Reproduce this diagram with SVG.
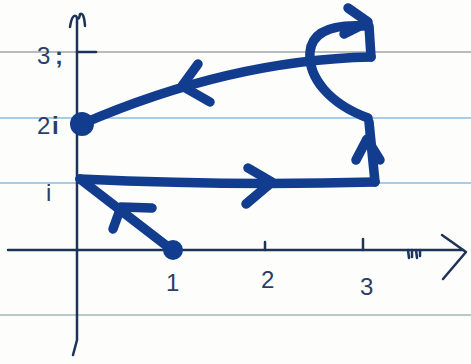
<svg xmlns="http://www.w3.org/2000/svg" width="471" height="364" viewBox="0 0 471 364">
<style>
.rule{stroke-width:2;fill:none}
.axis{stroke:#1d3358;stroke-width:2.5;fill:none;stroke-linecap:round;stroke-linejoin:round}
.ink{stroke:#123d8f;stroke-width:9.5;fill:none;stroke-linecap:round;stroke-linejoin:round}
.lbl{font-family:"Liberation Sans",Arial,sans-serif;font-size:24px;fill:#2a3e66}
</style>
<rect width="471" height="364" fill="#fdfdfb"/>
<g id="paper">
<line class="rule" x1="0" y1="52" x2="471" y2="52" stroke="#b9bcbc"/>
<line class="rule" x1="0" y1="118" x2="471" y2="118" stroke="#a6cde3"/>
<line class="rule" x1="0" y1="183" x2="471" y2="183" stroke="#a6cde3"/>
<line class="rule" x1="0" y1="315" x2="471" y2="315" stroke="#b8c9cb"/>
</g>
<g id="axes">
<path class="axis" d="M77 18 L77 340 L73 355"/>
<path class="axis" d="M70 27 Q72 14 76 16 Q79 22 80 14 Q84 12 85 26"/>
<path class="axis" d="M77 52 L96 52"/>
<path class="axis" d="M8 250 L463 250"/>
<path class="axis" d="M442 235 L466 252 L443 279"/>
<path class="axis" d="M265 242 L265 250 M363 239 L363 250"/>
<path class="axis" stroke-width="2" d="M408 250 L409 258 M412 250 L412 257 M416 250 L417 258 M420 250 L420 256"/>
</g>
<g id="labels">
<text class="lbl" x="37" y="64">3</text>
<text class="lbl" x="55" y="64" font-size="20" font-weight="bold">;</text>
<text class="lbl" x="37" y="134">2</text>
<text class="lbl" x="52" y="134" font-size="22" font-weight="bold">i</text>
<text class="lbl" x="46" y="201" font-size="22">i</text>
<text class="lbl" x="166" y="291" font-size="22">1</text>
<text class="lbl" x="261" y="288">2</text>
<text class="lbl" x="360" y="295">3</text>
</g>
<g id="connectors">
<path class="ink" d="M172 250 L80 179"/>
<path class="ink" d="M152 208 L121 207 L113 229"/>
<path class="ink" d="M80 179 Q230 186 375 182"/>
<path class="ink" d="M248 168 L272 182 L246 204"/>
<path class="ink" d="M375 182 L369 122"/>
<path class="ink" d="M356 160 L367 139 L380 160"/>
<path class="ink" d="M368 118 C330 104 308 78 310 52 C312 30 335 24 366 26"/>
<path class="ink" d="M348 8 L368 22 L344 34"/>
<path class="ink" d="M369 26 L371 57"/>
<path class="ink" d="M371 57 Q230 60 82 124"/>
<path class="ink" d="M198 64 L182 86 L210 102"/>
</g>
<g id="node-2i"><circle cx="82" cy="124" r="12" fill="#123d8f"/></g>
<g id="node-1"><circle cx="173" cy="250" r="10" fill="#123d8f"/></g>
</svg>
